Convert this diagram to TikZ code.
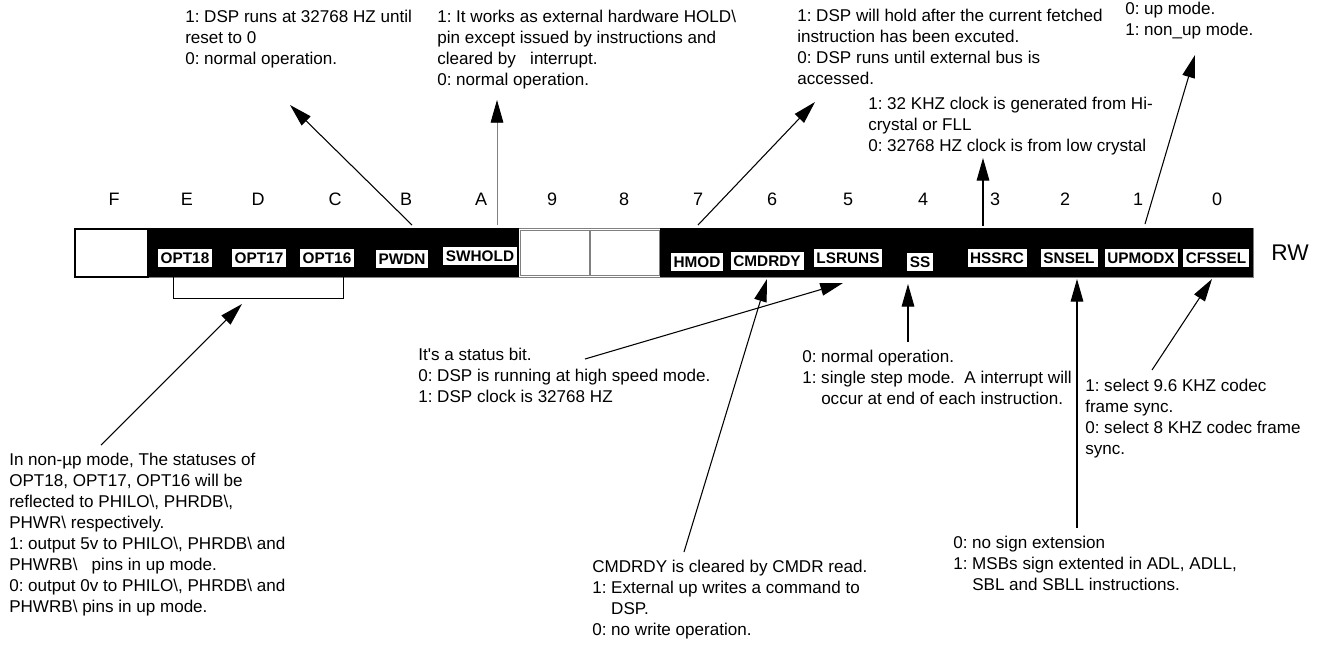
\documentclass[tikz,border=0pt]{standalone}
\usepackage{fontspec}
\setmainfont{Liberation Sans}
\usetikzlibrary{arrows.meta,calc}
\begin{document}
\begin{tikzpicture}[x=0.75pt,y=-0.75pt,
  txt/.style={font=\fontsize{12.8}{15.75}\selectfont\frenchspacing, align=left, anchor=north west, inner sep=0pt},
  bitno/.style={font=\fontsize{13.5}{16}\selectfont, inner sep=0pt, anchor=base},
  fld/.style={fill=white, draw=black, line width=0.4pt, font=\bfseries\fontsize{11.5}{13}\selectfont,
              inner xsep=2.4pt, inner ysep=0pt, minimum height=14pt, text height=8.4pt, text depth=0pt},
  arr/.style={line width=0.8pt, -{Triangle[length=17pt,width=9.5pt]}},
  garr/.style={line width=0.6pt, draw=gray, -{Triangle[length=17pt,width=9.5pt,black]}},
]
\useasboundingbox (0,0) rectangle (1335,658);

% register bar
\draw[gray, line width=0.4pt] (74,228) rectangle (1253,277);
\fill[black] (148,228) rectangle (519,277);
\fill[black] (660,228) rectangle (1253,277);
\draw[black, fill=white, line width=0.8pt] (75,229) rectangle (148,277);
\draw[gray, fill=white, line width=0.6pt] (520,230) rectangle (589,275);
\draw[gray, fill=white, line width=0.6pt] (590,230) rectangle (659,275);

% bit numbers
\foreach \n/\x in {F/114,E/187,D/258,C/335,B/406,A/481,9/552,8/624,7/698,6/772,5/848,4/923,3/995,2/1065,1/1138,0/1217}
  \node[bitno] (bit\n) at (\x,205) {\n};

% fields
\node[fld] (opt18) at (185,258) {OPT18};
\node[fld] (opt17) at (259,258) {OPT17};
\node[fld] (opt16) at (327,258) {OPT16};
\node[fld] (pwdn) at (402,259) {PWDN};
\node[fld] (swhold) at (480,256) {SWHOLD};
\node[fld] (hmod) at (697,262) {HMOD};
\node[fld] (cmdrdy) at (767,261) {CMDRDY};
\node[fld] (lsruns) at (848,258) {LSRUNS};
\node[fld] (ss) at (920,262) {SS};
\node[fld] (hssrc) at (997,258) {HSSRC};
\node[fld] (snsel) at (1069,258) {SNSEL};
\node[fld] (upmodx) at (1141,258) {UPMODX};
\node[fld] (cfssel) at (1216,258) {CFSSEL};
\node[font=\fontsize{17}{19}\selectfont, inner sep=0pt] (rw) at (1290,253) {RW};

% bracket under OPT18..OPT16
\coordinate (brL) at (173,277);
\coordinate (brR) at (343,277);
\draw[line width=0.6pt] (brL) -- ++(0,21) -- ($(brR)+(0,21)$) -- (brR);

% texts
\node[txt] (tpwdn) at (185,10) {1: DSP runs at 32768 HZ until\\reset to 0\\0: normal operation.};
\node[txt] (tswhold) at (437,10) {1: It works as external hardware HOLD\textbackslash\\pin except issued by instructions and\\cleared by\ \ \ interrupt.\\0: normal operation.};
\node[txt] (thmod) at (797,9) {1: DSP will hold after the current fetched\\instruction has been excuted.\\0: DSP runs until external bus is\\accessed.};
\node[txt] (thssrc) at (868,97) {1: 32 KHZ clock is generated from Hi-\\crystal or FLL\\0: 32768 HZ clock is from low crystal};
\node[txt] (tupmodx) at (1125,2) {0: up mode.\\1: non\_up mode.};
\node[txt] (topt) at (9,453) {In non-µp mode, The statuses of\\OPT18, OPT17, OPT16 will be\\reflected to PHILO\textbackslash, PHRDB\textbackslash,\\PHWR\textbackslash{} respectively.\\1: output 5v to PHILO\textbackslash, PHRDB\textbackslash{} and\\PHWRB\textbackslash\ \ \ pins in up mode.\\0: output 0v to PHILO\textbackslash, PHRDB\textbackslash{} and\\PHWRB\textbackslash{} pins in up mode.};
\node[txt] (tlsruns) at (418,348) {It\textquotesingle s a status bit.\\0: DSP is running at high speed mode.\\1: DSP clock is 32768 HZ};
\node[txt] (tcmdrdy) at (592,560) {CMDRDY is cleared by CMDR read.\\1: External up writes a command to\\\phantom{1: }DSP.\\0: no write operation.};
\node[txt] (tss) at (802,350) {0: normal operation.\\1: single step mode.\ \ A interrupt will\\\phantom{1: }occur at end of each instruction.};
\node[txt] (tsnsel) at (953,536) {0: no sign extension\\1: MSBs sign extented in ADL, ADLL,\\\phantom{1: }SBL and SBLL instructions.};
\node[txt] (tcfssel) at (1085,379) {1: select 9.6 KHZ codec\\frame sync.\\0: select 8 KHZ codec frame\\sync.};

% connector end points
\coordinate (pwdnS) at (412,225);   \coordinate (pwdnT) at (290,105);
\coordinate (swholdS) at (497,225); \coordinate (swholdT) at (497,100);
\coordinate (hmodS) at (698,225);   \coordinate (hmodT) at (815,102);
\coordinate (hssrcS) at (983,226);  \coordinate (hssrcT) at (983,158);
\coordinate (upmodxS) at (1145,224);\coordinate (upmodxT) at (1195,55);
\coordinate (optS) at (101,445);    \coordinate (optT) at (242,304);
\coordinate (lsrunsS) at (585,359); \coordinate (lsrunsT) at (843,283);
\coordinate (cmdrdyS) at (684,552); \coordinate (cmdrdyT) at (767,279);
\coordinate (ssS) at (908,342);     \coordinate (ssT) at (908,284);
\coordinate (snselS) at (1077,528); \coordinate (snselT) at (1077,279);
\coordinate (cfsselS) at (1152,370);\coordinate (cfsselT) at (1212,279);

\draw[arr] (pwdnS) -- (pwdnT);
\draw[garr] (swholdS) -- (swholdT);
\draw[arr] (hmodS) -- (hmodT);
\draw[arr] (hssrcS) -- (hssrcT);
\draw[arr] (upmodxS) -- (upmodxT);
\draw[arr] (optS) -- (optT);
\draw[arr] (lsrunsS) -- (lsrunsT);
\draw[arr] (cmdrdyS) -- (cmdrdyT);
\draw[arr] (ssS) -- (ssT);
\draw[arr] (snselS) -- (snselT);
\draw[arr] (cfsselS) -- (cfsselT);
\end{tikzpicture}
\end{document}
